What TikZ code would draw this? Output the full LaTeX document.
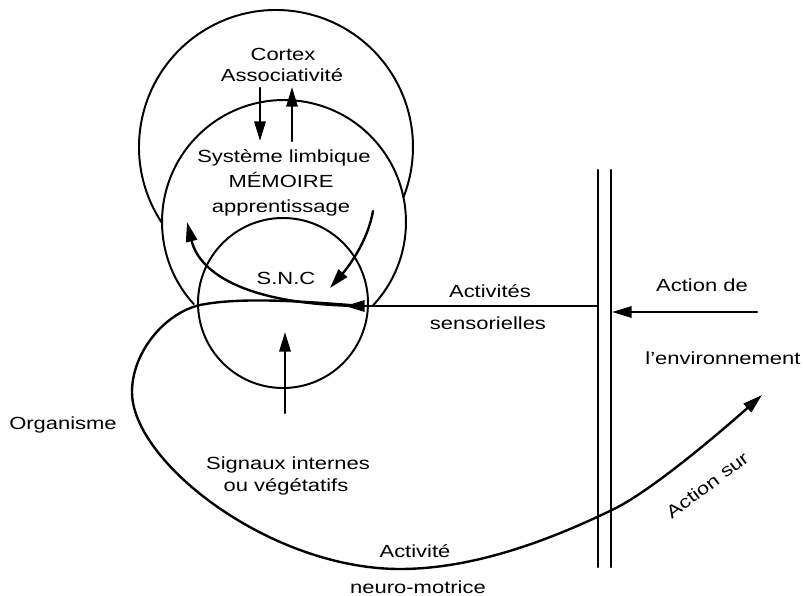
\documentclass[tikz,border=0pt]{standalone}
\usepackage{fontspec}
\setmainfont{Liberation Sans}[FakeStretch=1.25]
\usetikzlibrary{arrows.meta}
\tikzset{%
  ring/.style = {line width=1.4pt},%
  flow/.style = {line width=1.7pt, -{Triangle[length=14pt,width=8pt]}},%
  wall/.style = {line width=1.8pt},%
  lbl/.style  = {anchor=base, inner sep=0pt, font=\fontsize{12.5}{14}\selectfont}%
}

\begin{document}
\begin{tikzpicture}[x=0.025cm, y=-0.025cm, line cap=round]
  \useasboundingbox (0,0) rectangle (803,596);
  % -------------- CIRCLES: CORTEX, LIMBIQUE, S.N.C --------------
  \coordinate (CxO) at (276,147);
  \coordinate (LbO) at (284,222);
  \coordinate (SncO) at (283,303);
  \draw[ring] (CxO) ++(146.3:137) arc[start angle=146.3, end angle=381.5, radius=137];
  \draw[ring] (LbO) ++(137.7:122) arc[start angle=137.7, end angle=403.3, radius=122];
  \draw[ring] (SncO) circle[radius=85];
  % -------------- LABELS --------------
  \node[lbl] (Cx)  at (283,61)  {Cortex};
  \node[lbl] (As)  at (282,82)  {Associativité};
  \node[lbl] (Lb)  at (284,163) {Système limbique};
  \node[lbl] (Mem) at (281,188) {MÉMOIRE};
  \node[lbl] (Ap)  at (281,213) {apprentissage};
  \node[lbl] (SNC) at (286,285) {S.N.C};
  \node[lbl] (Act) at (490,298) {Activités};
  \node[lbl] (Sen) at (488,330) {sensorielles};
  \node[lbl] (AcD) at (702,292) {Action de};
  \node[lbl] (Env) at (723,365) {l'environnement};
  \node[lbl] (Org) at (63,430)  {Organisme};
  \node[lbl] (Sig) at (288,470) {Signaux internes};
  \node[lbl] (Veg) at (286,492) {ou végétatifs};
  \node[lbl] (AcN) at (415,558) {Activité};
  \node[lbl] (Neu) at (418,593) {neuro-motrice};
  \node[lbl, rotate=37] (AcS) at (711,490) {Action sur};
  % -------------- END POINTS --------------
  \coordinate (CxDnA) at (260,88);
  \coordinate (CxDnB) at (260,141);
  \coordinate (LbUpA) at (292,141);
  \coordinate (LbUpB) at (292,87);
  \coordinate (SigB) at (285,413);
  \coordinate (SigT) at (285,332);
  \coordinate (LbR) at (373,211);
  \coordinate (SncTip) at (330,288);
  \coordinate (LbTip) at (187,222);
  \coordinate (SensR) at (597,306);
  \coordinate (SensTip) at (345,306);
  \coordinate (Fork) at (362,306);
  \coordinate (Cross) at (200,305);
  \coordinate (OrgW) at (132,392);
  \coordinate (OrgS) at (400,569);
  \coordinate (OrgE) at (612,510);
  \coordinate (EnvTip) at (762,395);
  \coordinate (ActR) at (757,312);
  \coordinate (ActTip) at (612,312);
  \coordinate (WlAT) at (598,170);
  \coordinate (WlAB) at (598,567);
  \coordinate (WlBT) at (611,170);
  \coordinate (WlBB) at (611,567);
  % -------------- WALL --------------
  \draw[wall] (WlAT) -- (WlAB);
  \draw[wall] (WlBT) -- (WlBB);
  % -------------- ARROWS --------------
  \draw[flow] (CxDnA) -- (CxDnB);
  \draw[flow] (LbUpA) -- (LbUpB);
  \draw[flow] (SigB) -- (SigT);
  \draw[flow] (LbR) .. controls (368,240) and (350,265) .. (SncTip);
  \draw[flow] (ActR) -- (ActTip);
  \draw[flow] (Fork) .. controls (250,305) and (200,275) .. (LbTip);
  \draw[flow] (Fork) .. controls (300,301) and (240,297) .. (Cross)
              .. controls (165,313) and (132,352) .. (OrgW)
              .. controls (132,462) and (270,569) .. (OrgS)
              .. controls (480,569) and (560,535) .. (OrgE)
              .. controls (652,491) and (725,428) .. (EnvTip);
  \draw[flow] (SensR) -- (SensTip);
\end{tikzpicture}
\end{document}
